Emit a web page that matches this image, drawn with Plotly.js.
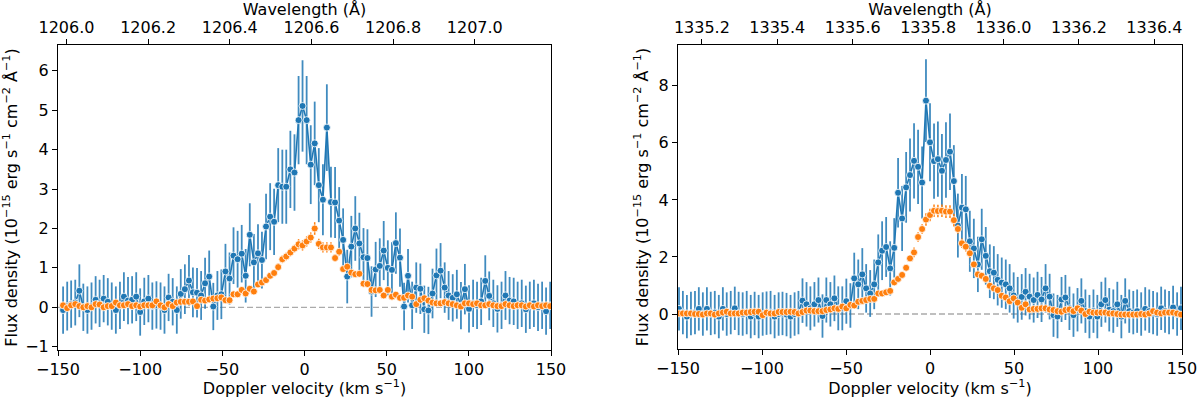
<!DOCTYPE html>
<html><head><meta charset="utf-8">
<script src="https://cdn.plot.ly/plotly-3.0.1.min.js"></script>
<style>html,body{margin:0;padding:0;background:#fff}#chart{width:1200px;height:398px}</style>
</head><body><div id="chart"></div>
<script>
// ---- Si III panel (left) ----
const velSi = [-146.9,-144.4,-142.0,-139.5,-137.0,-134.6,-132.1,-129.6,-127.1,-124.7,
-122.2,-119.7,-117.3,-114.8,-112.3,-109.9,-107.4,-104.9,-102.4,-100.0,
-97.5,-95.0,-92.6,-90.1,-87.6,-85.2,-82.7,-80.2,-77.7,-75.3,
-72.8,-70.3,-67.9,-65.4,-62.9,-60.5,-58.0,-55.5,-53.0,-50.6,
-48.1,-45.6,-43.2,-40.7,-38.2,-35.8,-33.3,-30.8,-28.3,-25.9,
-23.4,-20.9,-18.5,-16.0,-13.5,-11.1,-8.6,-6.1,-3.6,-1.2,
1.3,3.8,6.2,8.7,11.2,13.6,16.1,18.6,21.1,23.5,
26.0,28.5,30.9,33.4,35.9,38.3,40.8,43.3,45.8,48.2,
50.7,53.2,55.6,58.1,60.6,63.0,65.5,68.0,70.5,72.9,
75.4,77.9,80.3,82.8,85.3,87.7,90.2,92.7,95.2,97.6,
100.1,102.6,105.0,107.5,110.0,112.4,114.9,117.4,119.9,122.3,
124.8,127.3,129.7,132.2,134.7,137.1,139.6,142.1,144.6,147.0,
149.5];
const fluxSiObs = [-0.07,0.03,0.08,0.12,0.42,0.0,-0.07,0.03,0.19,0.1,
0.22,0.14,0.03,-0.07,0.05,0.27,0.17,0.19,0.27,-0.12,
0.15,0.22,0.03,0.06,0.03,-0.07,0.25,0.14,-0.07,0.34,
0.46,0.68,0.38,0.37,0.3,0.61,0.78,0.02,0.3,0.33,
0.91,0.73,1.31,1.22,1.36,0.8,1.84,1.14,1.37,1.2,
2.05,2.3,2.17,3.1,3.06,3.06,3.5,3.42,4.75,5.11,
4.75,3.62,4.16,3.1,2.73,4.56,2.67,2.66,2.2,1.71,
0.78,1.54,2.0,1.62,1.27,1.25,0.4,0.96,1.05,1.44,
1.0,0.95,1.63,1.26,0.02,0.8,0.05,0.5,0.47,-0.05,
-0.08,0.35,0.81,0.93,0.5,0.3,0.24,0.33,0.04,0.46,
-0.04,0.1,0.05,0.15,0.67,0.29,0.1,-0.04,0.05,0.3,
0.17,0.15,0.05,0.1,-0.05,0.05,0.1,0.0,0.05,-0.1,
0.05];
const errSiObs = [0.6,0.62,0.6,0.58,0.67,0.6,0.6,0.6,0.6,0.6,
0.6,0.6,0.6,0.6,0.6,0.62,0.6,0.6,0.62,0.6,
0.6,0.6,0.6,0.6,0.6,0.6,0.6,0.6,0.6,0.63,
0.63,0.65,0.63,0.63,0.62,0.65,0.66,0.6,0.62,0.63,
0.7,0.66,0.72,0.72,0.73,0.68,0.8,0.72,0.74,0.72,
0.83,0.85,0.84,0.94,0.94,0.94,0.98,0.97,1.12,1.16,
1.12,1.0,1.06,0.94,0.9,1.1,0.9,0.9,0.85,0.8,
0.68,0.78,0.82,0.78,0.74,0.73,0.64,0.7,0.7,0.75,
0.7,0.7,0.78,0.74,0.6,0.68,0.6,0.64,0.64,0.6,
0.6,0.63,0.68,0.7,0.64,0.62,0.6,0.62,0.6,0.64,
0.6,0.6,0.6,0.6,0.65,0.62,0.6,0.6,0.6,0.62,
0.6,0.6,0.6,0.6,0.6,0.6,0.6,0.6,0.6,0.6,
0.6];
const fluxSiMod = [0.05,-0.02,0.05,0.08,0.03,0.0,0.03,0.0,0.08,0.07,
0.0,0.03,0.03,0.12,0.05,0.05,0.08,0.03,0.05,0.02,
0.05,0.05,0.05,0.15,0.05,0.0,0.08,0.03,0.12,0.14,
0.14,0.14,0.15,0.03,0.19,0.17,0.2,0.22,0.23,0.25,
0.18,0.18,0.33,0.33,0.44,0.35,0.47,0.4,0.58,0.63,
0.69,0.8,0.87,1.02,1.22,1.29,1.39,1.49,1.6,1.57,
1.67,1.77,2.0,1.61,1.52,1.52,1.52,1.25,1.41,0.97,
1.03,0.88,0.84,0.85,0.6,0.59,0.44,0.43,0.44,0.3,
0.44,0.27,0.32,0.24,0.24,0.3,0.27,0.08,0.19,0.23,
0.17,0.12,0.1,0.1,0.13,0.1,0.08,0.05,0.02,0.1,
0.1,0.08,0.1,0.05,0.05,0.08,0.05,0.03,0.03,0.08,
0.05,0.03,0.05,0.05,0.02,0.05,0.02,0.05,0.03,0.05,
0.03];
const errSiMod = [0.05,0.05,0.05,0.05,0.05,0.05,0.05,0.05,0.05,0.05,
0.05,0.05,0.05,0.05,0.05,0.05,0.05,0.05,0.05,0.05,
0.05,0.05,0.05,0.05,0.05,0.05,0.05,0.05,0.05,0.05,
0.05,0.05,0.05,0.05,0.05,0.05,0.05,0.05,0.05,0.05,
0.05,0.05,0.05,0.05,0.05,0.05,0.05,0.05,0.07,0.07,
0.07,0.07,0.07,0.1,0.1,0.1,0.1,0.1,0.13,0.13,
0.13,0.13,0.16,0.13,0.13,0.13,0.13,0.1,0.1,0.07,
0.1,0.07,0.07,0.07,0.07,0.07,0.05,0.05,0.05,0.05,
0.05,0.05,0.05,0.05,0.05,0.05,0.05,0.05,0.05,0.05,
0.05,0.05,0.05,0.05,0.05,0.05,0.05,0.05,0.05,0.05,
0.05,0.05,0.05,0.05,0.05,0.05,0.05,0.05,0.05,0.05,
0.05,0.05,0.05,0.05,0.05,0.05,0.05,0.05,0.05,0.05,
0.05];
const wlTicksSi = [1206.0,1206.2,1206.4,1206.6,1206.8,1207.0];
const restSi = 1206.583;

// ---- C II panel (right) ----
const velC = [-149.4,-147.1,-144.7,-142.3,-139.9,-137.6,-135.2,-132.8,-130.5,-128.1,
-125.7,-123.3,-121.0,-118.6,-116.2,-113.9,-111.5,-109.1,-106.7,-104.4,
-102.0,-99.6,-97.3,-94.9,-92.5,-90.1,-87.8,-85.4,-83.0,-80.6,
-78.3,-75.9,-73.5,-71.2,-68.8,-66.4,-64.0,-61.7,-59.3,-56.9,
-54.6,-52.2,-49.8,-47.4,-45.1,-42.7,-40.3,-38.0,-35.6,-33.2,
-30.8,-28.5,-26.1,-23.7,-21.3,-19.0,-16.6,-14.2,-11.9,-9.5,
-7.1,-4.7,-2.4,0.0,2.4,4.7,7.1,9.5,11.9,14.2,
16.6,19.0,21.3,23.7,26.1,28.5,30.8,33.2,35.6,38.0,
40.3,42.7,45.1,47.4,49.8,52.2,54.6,56.9,59.3,61.7,
64.0,66.4,68.8,71.2,73.5,75.9,78.3,80.6,83.0,85.4,
87.8,90.1,92.5,94.9,97.3,99.6,102.0,104.4,106.7,109.1,
111.5,113.9,116.2,118.6,121.0,123.3,125.7,128.1,130.5,132.8,
135.2,137.6,139.9,142.3,144.7,147.1,149.4];
const fluxCObs = [0.18,0.05,-0.09,0.02,0.05,0.18,0.0,0.18,0.02,0.05,
-0.09,0.18,0.0,0.05,0.2,0.02,0.0,0.05,-0.09,0.02,
-0.09,0.0,0.03,0.05,-0.09,0.0,0.02,-0.02,-0.09,0.0,
0.05,0.47,0.34,0.2,0.34,0.49,-0.07,0.49,0.34,0.55,
0.2,0.2,0.45,0.3,1.25,1.04,1.39,0.9,0.72,1.04,
1.81,2.22,2.35,1.6,2.32,4.25,3.35,4.44,4.87,5.37,
5.16,4.61,7.48,6.02,5.36,5.43,5.02,5.4,5.69,4.66,
3.1,3.73,3.67,2.55,2.3,1.74,2.62,2.04,1.5,1.45,
1.2,1.1,1.04,0.9,0.65,0.5,0.6,0.78,0.61,0.49,
0.67,0.51,0.9,0.61,-0.04,-0.09,0.51,0.58,0.2,-0.04,
0.15,0.46,0.1,-0.09,0.1,-0.09,0.34,0.49,0.15,0.1,
0.34,-0.09,0.46,0.1,0.05,0.1,0.0,0.18,0.1,0.05,
0.0,0.2,0.1,0.05,0.23,0.0,0.2];
const errCObs = [0.76,0.76,0.76,0.76,0.76,0.76,0.76,0.76,0.76,0.76,
0.76,0.76,0.76,0.76,0.76,0.76,0.76,0.76,0.76,0.76,
0.76,0.76,0.76,0.76,0.76,0.76,0.76,0.76,0.76,0.76,
0.76,0.78,0.78,0.77,0.78,0.79,0.76,0.79,0.78,0.8,
0.77,0.77,0.79,0.78,0.9,0.87,0.92,0.85,0.82,0.87,
0.98,1.03,1.05,0.95,1.04,1.22,1.14,1.24,1.28,1.32,
1.3,1.26,1.45,1.37,1.32,1.32,1.29,1.32,1.34,1.26,
1.12,1.18,1.17,1.07,1.04,0.97,1.07,1.01,0.94,0.93,
0.9,0.88,0.87,0.85,0.81,0.8,0.8,0.83,0.8,0.79,
0.81,0.79,0.85,0.8,0.76,0.76,0.79,0.79,0.76,0.76,
0.76,0.79,0.76,0.76,0.76,0.76,0.79,0.79,0.76,0.76,
0.79,0.76,0.79,0.76,0.76,0.76,0.76,0.76,0.76,0.76,
0.76,0.76,0.76,0.76,0.76,0.76,0.76];
const fluxCMod = [0.02,0.02,0.02,0.02,0.0,0.0,-0.02,0.02,0.02,-0.02,
0.02,0.05,0.08,0.02,0.02,0.02,0.05,0.05,0.07,0.08,
0.08,-0.04,0.05,0.02,0.02,0.07,0.07,0.07,0.08,0.07,
0.02,0.07,0.12,0.12,0.1,0.1,0.1,0.14,0.16,0.2,
0.18,0.26,0.2,0.32,0.3,0.43,0.46,0.49,0.53,0.53,
0.72,0.72,0.76,0.81,1.11,1.23,1.37,1.62,1.95,2.16,
2.7,2.98,3.31,3.47,3.62,3.61,3.62,3.59,3.59,3.29,
2.98,2.48,2.36,2.13,1.74,1.39,1.34,1.23,0.99,0.9,
0.84,0.64,0.58,0.45,0.55,0.4,0.22,0.34,0.16,0.18,
0.18,0.2,0.2,0.16,0.14,0.1,0.08,0.14,0.16,0.1,
0.2,0.12,0.0,0.08,0.05,0.05,0.05,0.05,0.02,0.02,
0.0,-0.02,-0.02,-0.02,-0.02,-0.02,0.0,-0.02,0.02,0.1,
0.05,0.02,0.05,0.05,0.05,0.02,-0.02];
const errCMod = [0.05,0.05,0.05,0.05,0.05,0.05,0.05,0.05,0.05,0.05,
0.05,0.05,0.05,0.05,0.05,0.05,0.05,0.05,0.05,0.05,
0.05,0.05,0.05,0.05,0.05,0.05,0.05,0.05,0.05,0.05,
0.05,0.05,0.05,0.05,0.05,0.05,0.05,0.05,0.05,0.05,
0.05,0.05,0.05,0.05,0.05,0.05,0.05,0.05,0.08,0.08,
0.08,0.08,0.08,0.08,0.12,0.12,0.12,0.12,0.12,0.17,
0.17,0.17,0.22,0.22,0.22,0.22,0.22,0.22,0.22,0.22,
0.17,0.17,0.17,0.17,0.12,0.12,0.12,0.12,0.08,0.08,
0.08,0.08,0.08,0.05,0.08,0.05,0.05,0.05,0.05,0.05,
0.05,0.05,0.05,0.05,0.05,0.05,0.05,0.05,0.05,0.05,
0.05,0.05,0.05,0.05,0.05,0.05,0.05,0.05,0.05,0.05,
0.05,0.05,0.05,0.05,0.05,0.05,0.05,0.05,0.05,0.05,
0.05,0.05,0.05,0.05,0.05,0.05,0.05];
const wlTicksC = [1335.2,1335.4,1335.6,1335.8,1336.0,1336.2,1336.4];
const restC = 1335.805;

const velTicks = [-150,-100,-50,0,50,100,150];
const velRange = [-150,150];
const ySiRange = [-1.084,6.657];
const ySiTicks = [-1,0,1,2,3,4,5,6];
const yCRange = [-1.226,9.43];
const yCTicks = [0,2,4,6,8];
const cLight = 299792.458;

const BLUE = '#1f77b4', ORANGE = '#ff7f0e';
const FONT = 'DejaVu Sans, Liberation Sans, sans-serif';
const FS = 16;

function obsTrace(x, y, e, xa, ya){
  return {x:x, y:y, xaxis:xa, yaxis:ya, type:'scatter', mode:'lines+markers',
    line:{color:BLUE, width:1.6},
    marker:{color:BLUE, size:7, line:{color:'white', width:0.8}},
    error_y:{type:'data', array:e, visible:true, color:'rgba(31,119,180,0.85)', thickness:1.8, width:0},
    showlegend:false, hoverinfo:'skip'};
}
function modTrace(x, y, e, xa, ya){
  return {x:x, y:y, xaxis:xa, yaxis:ya, type:'scatter', mode:'markers',
    marker:{color:ORANGE, size:7, line:{color:'white', width:0.8}},
    error_y:{type:'data', array:e, visible:true, color:ORANGE, thickness:1.5, width:0},
    showlegend:false, hoverinfo:'skip'};
}
// empty carrier trace so that the top (wavelength) axis is created; it has no points
function axisCarrier(ticks, xa, ya){
  return {x:ticks, y:ticks.map(() => null), xaxis:xa, yaxis:ya, type:'scatter', mode:'markers',
    marker:{opacity:0}, showlegend:false, hoverinfo:'skip'};
}
const wl = (rest, v) => rest*(1+v/cLight);

const baseX = {range:velRange, tickvals:velTicks, ticks:'outside', ticklen:5, tickwidth:1, tickcolor:'#000',
  showline:true, linecolor:'#000', linewidth:1, mirror:false, showgrid:false, zeroline:false,
  tickfont:{size:FS, color:'#000'},
  title:{text:'Doppler velocity (km s<sup>−1</sup>)', font:{size:FS, color:'#000'}, standoff:3}};
const baseY = {ticks:'outside', ticklen:5, tickwidth:1, tickcolor:'#000',
  showline:true, linecolor:'#000', linewidth:1, mirror:true, showgrid:false, zeroline:false,
  tickfont:{size:FS, color:'#000'},
  title:{text:'Flux density (10<sup>−15</sup> erg s<sup>−1</sup> cm<sup>−2</sup> Å<sup>−1</sup>)', font:{size:FS, color:'#000'}, standoff:6}};
const baseTop = {side:'top', ticks:'outside', ticklen:5, tickwidth:1, tickcolor:'#000',
  showline:true, linecolor:'#000', linewidth:1, showgrid:false, zeroline:false, tickformat:'.1f',
  tickfont:{size:FS, color:'#000'},
  title:{text:'Wavelength (Å)', font:{size:FS, color:'#000'}, standoff:1}};

const layout = {
  width:1200, height:398, margin:{l:0, r:0, t:0, b:0},
  paper_bgcolor:'#fff', plot_bgcolor:'#fff',
  font:{family:FONT, size:FS, color:'#000'},
  xaxis: Object.assign({}, baseX, {domain:[58/1200, 551/1200], anchor:'y'}),
  xaxis2: Object.assign({}, baseTop, {overlaying:'x', anchor:'y', range:[wl(restSi,velRange[0]), wl(restSi,velRange[1])], tickvals:wlTicksSi}),
  yaxis: Object.assign({}, baseY, {domain:[48/398, 353/398], anchor:'x', range:ySiRange, tickvals:ySiTicks}),
  xaxis3: Object.assign({}, baseX, {domain:[678/1200, 1182/1200], anchor:'y2'}),
  xaxis4: Object.assign({}, baseTop, {overlaying:'x3', anchor:'y2', range:[wl(restC,velRange[0]), wl(restC,velRange[1])], tickvals:wlTicksC}),
  yaxis2: Object.assign({}, baseY, {domain:[49/398, 353/398], anchor:'x3', range:yCRange, tickvals:yCTicks}),
  shapes:[
    {type:'line', xref:'x domain', yref:'y', x0:0, x1:1, y0:0, y1:0, layer:'below', line:{color:'#ababab', width:1.3, dash:'6px,3px'}},
    {type:'line', xref:'x3 domain', yref:'y2', x0:0, x1:1, y0:0, y1:0, layer:'below', line:{color:'#ababab', width:1.3, dash:'6px,3px'}}
  ]
};
const data = [
  axisCarrier(wlTicksSi, 'x2', 'y'),
  axisCarrier(wlTicksC, 'x4', 'y2'),
  obsTrace(velSi, fluxSiObs, errSiObs, 'x', 'y'),
  modTrace(velSi, fluxSiMod, errSiMod, 'x', 'y'),
  obsTrace(velC, fluxCObs, errCObs, 'x3', 'y2'),
  modTrace(velC, fluxCMod, errCMod, 'x3', 'y2')
];
Plotly.newPlot('chart', data, layout, {staticPlot:true, displayModeBar:false});
</script></body></html>
